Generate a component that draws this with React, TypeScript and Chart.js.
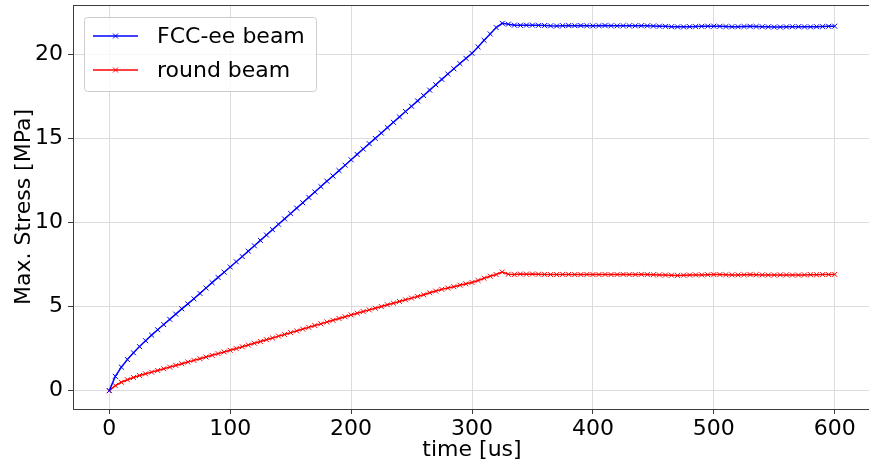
import React, { useEffect, useRef } from "react";
import { Chart, registerables } from "chart.js";

Chart.register(...registerables);

const TIME = [
  0, 5, 10, 15, 20, 25, 30, 35, 40, 45, 50, 55, 60, 65, 70, 75, 80, 85, 90, 95,
  100, 105, 110, 115, 120, 125, 130, 135, 140, 145, 150, 155, 160, 165, 170, 175, 180, 185, 190, 195,
  200, 205, 210, 215, 220, 225, 230, 235, 240, 245, 250, 255, 260, 265, 270, 275, 280, 285, 290, 295,
  300, 305, 310, 315, 320, 325, 330, 335, 340, 345, 350, 355, 360, 365, 370, 375, 380, 385, 390, 395,
  400, 405, 410, 415, 420, 425, 430, 435, 440, 445, 450, 455, 460, 465, 470, 475, 480, 485, 490, 495,
  500, 505, 510, 515, 520, 525, 530, 535, 540, 545, 550, 555, 560, 565, 570, 575, 580, 585, 590, 595,
  600,
];

const FCC_EE = [
  0, 0.85, 1.4, 1.85, 2.25, 2.62, 2.97, 3.3, 3.62, 3.93, 4.24, 4.55, 4.86, 5.16, 5.46, 5.78, 6.1, 6.42, 6.73, 7.04,
  7.35, 7.66, 7.97, 8.29, 8.61, 8.93, 9.25, 9.57, 9.89, 10.21, 10.53, 10.85, 11.17, 11.49, 11.81, 12.13, 12.45, 12.76, 13.08, 13.4,
  13.72, 14.04, 14.36, 14.68, 14.99, 15.31, 15.63, 15.95, 16.27, 16.59, 16.9, 17.22, 17.54, 17.86, 18.18, 18.5, 18.82, 19.13, 19.44, 19.75,
  20.05, 20.43, 20.82, 21.2, 21.58, 21.83, 21.78, 21.72, 21.71, 21.72, 21.72, 21.71, 21.7, 21.68, 21.67, 21.69, 21.7, 21.69, 21.7, 21.69,
  21.68, 21.69, 21.7, 21.69, 21.68, 21.69, 21.69, 21.68, 21.69, 21.68, 21.67, 21.66, 21.65, 21.63, 21.62, 21.62, 21.63, 21.64, 21.65, 21.66,
  21.66, 21.65, 21.64, 21.63, 21.63, 21.64, 21.65, 21.64, 21.63, 21.62, 21.61, 21.61, 21.62, 21.63, 21.63, 21.62, 21.62, 21.63, 21.64, 21.65,
  21.66,
];

const ROUND = [
  0, 0.3, 0.5, 0.65, 0.78, 0.9, 1.0, 1.1, 1.2, 1.3, 1.4, 1.5, 1.6, 1.7, 1.8, 1.9, 2.0, 2.1, 2.2, 2.3,
  2.4, 2.5, 2.61, 2.71, 2.82, 2.92, 3.03, 3.13, 3.24, 3.34, 3.45, 3.55, 3.66, 3.76, 3.87, 3.97, 4.08, 4.18, 4.29, 4.39,
  4.5, 4.6, 4.7, 4.8, 4.9, 5.0, 5.1, 5.2, 5.3, 5.4, 5.5, 5.6, 5.7, 5.82, 5.92, 6.02, 6.1, 6.18, 6.27, 6.35,
  6.43, 6.55, 6.68, 6.8, 6.9, 7.05, 6.92, 6.9, 6.93, 6.92, 6.93, 6.92, 6.91, 6.9, 6.9, 6.91, 6.91, 6.9, 6.9, 6.91,
  6.9, 6.9, 6.91, 6.9, 6.9, 6.91, 6.9, 6.9, 6.91, 6.9, 6.89, 6.88, 6.87, 6.86, 6.85, 6.86, 6.87, 6.88, 6.88, 6.89,
  6.9, 6.9, 6.89, 6.88, 6.88, 6.89, 6.9, 6.89, 6.88, 6.87, 6.87, 6.88, 6.88, 6.87, 6.87, 6.88, 6.89, 6.89, 6.9, 6.9,
  6.91,
];

const SERIES_LABELS = ["FCC-ee beam", "round beam"];
const SERIES_COLORS = ["#0000ff", "#ff0000"];
const X_TICKS = [0, 100, 200, 300, 400, 500, 600];
const Y_TICKS = [0, 5, 10, 15, 20];
const X_TITLE = "time [us]";
const Y_TITLE = "Max. Stress [MPa]";

const FONT = "'DejaVu Sans', sans-serif";

const framePlugin = {
  id: "frame",
  afterDraw(chart: any) {
    const { ctx, chartArea: a } = chart;
    ctx.save();
    ctx.strokeStyle = "#3c3c3c";
    ctx.lineWidth = 1;
    const l = Math.round(a.left) + 0.5;
    const t = Math.round(a.top) + 0.5;
    const r = Math.round(a.right) + 0.5;
    const b = Math.round(a.bottom) + 0.5;
    ctx.strokeRect(l, t, r - l, b - t);
    ctx.restore();
  },
};

const legendPlugin = {
  id: "mplLegend",
  afterDraw(chart: any) {
    const { ctx } = chart;
    ctx.save();
    const x = 84.5, y = 17.5, w = 232, h = 74, rad = 3;
    ctx.beginPath();
    ctx.moveTo(x + rad, y);
    ctx.lineTo(x + w - rad, y);
    ctx.arcTo(x + w, y, x + w, y + rad, rad);
    ctx.lineTo(x + w, y + h - rad);
    ctx.arcTo(x + w, y + h, x + w - rad, y + h, rad);
    ctx.lineTo(x + rad, y + h);
    ctx.arcTo(x, y + h, x, y + h - rad, rad);
    ctx.lineTo(x, y + rad);
    ctx.arcTo(x, y, x + rad, y, rad);
    ctx.closePath();
    ctx.fillStyle = "rgba(255,255,255,0.8)";
    ctx.fill();
    ctx.strokeStyle = "#cccccc";
    ctx.lineWidth = 1;
    ctx.stroke();

    chart.data.datasets.forEach((ds: any, i: number) => {
      const cy = 36 + i * 34;
      ctx.strokeStyle = ds.borderColor;
      ctx.lineWidth = 1.5;
      ctx.beginPath();
      ctx.moveTo(93, cy);
      ctx.lineTo(138, cy);
      ctx.stroke();
      const mx = 115.5, s = 2.5;
      ctx.lineWidth = 1;
      ctx.beginPath();
      ctx.moveTo(mx - s, cy - s);
      ctx.lineTo(mx + s, cy + s);
      ctx.moveTo(mx - s, cy + s);
      ctx.lineTo(mx + s, cy - s);
      ctx.stroke();
      ctx.fillStyle = "#000";
      ctx.font = `22px ${FONT}`;
      ctx.textBaseline = "middle";
      ctx.textAlign = "left";
      ctx.fillText(ds.label, 157, cy + 1);
    });
    ctx.restore();
  },
};

export default function App() {
  const ref = useRef<HTMLCanvasElement | null>(null);

  useEffect(() => {
    if (!ref.current) return;
    const makeData = (vals: number[]) => TIME.map((t, i) => ({ x: t, y: vals[i] }));
    const series = [FCC_EE, ROUND];
    const chart = new Chart(ref.current, {
      type: "line",
      data: {
        datasets: series.map((vals, i) => ({
          label: SERIES_LABELS[i],
          data: makeData(vals),
          borderColor: SERIES_COLORS[i],
          backgroundColor: SERIES_COLORS[i],
          borderWidth: 1.5,
          pointStyle: "crossRot",
          pointRadius: 3.5,
          pointBorderWidth: 1,
          pointBorderColor: SERIES_COLORS[i],
          pointBackgroundColor: SERIES_COLORS[i],
          fill: false,
          tension: 0,
        })),
      },
      options: {
        animation: false,
        responsive: false,
        maintainAspectRatio: false,
        layout: { padding: { top: 5, right: 9, left: 0, bottom: 0 } },
        plugins: {
          legend: { display: false },
          tooltip: { enabled: false },
        },
        scales: {
          x: {
            type: "linear",
            min: -30,
            max: 630,
            afterBuildTicks: (s: any) => {
              s.ticks = X_TICKS.map((v) => ({ value: v }));
            },
            afterFit: (s: any) => {
              s.height = 55;
              s.paddingLeft = 0;
              s.paddingRight = 0;
            },
            border: { display: false },
            grid: {
              color: "#dcdcdc",
              lineWidth: 1,
              drawTicks: true,
              tickLength: 5,
              tickColor: "#3c3c3c",
            },
            ticks: {
              font: { family: FONT, size: 22 },
              color: "#000",
              padding: 2,
              maxRotation: 0,
              autoSkip: false,
            },
            title: {
              display: true,
              text: X_TITLE,
              font: { family: FONT, size: 22, lineHeight: 1.2 },
              color: "#000",
              padding: { top: 0, bottom: 1 },
            },
          },
          y: {
            type: "linear",
            min: -1.09,
            max: 22.92,
            afterBuildTicks: (s: any) => {
              s.ticks = Y_TICKS.map((v) => ({ value: v }));
            },
            afterFit: (s: any) => {
              s.width = 73;
              s.paddingTop = 0;
              s.paddingBottom = 0;
            },
            border: { display: false },
            grid: {
              color: "#dcdcdc",
              lineWidth: 1,
              drawTicks: true,
              tickLength: 5,
              tickColor: "#3c3c3c",
            },
            ticks: {
              font: { family: FONT, size: 22 },
              color: "#000",
              padding: 5,
              autoSkip: false,
            },
            title: {
              display: true,
              text: Y_TITLE,
              font: { family: FONT, size: 22, lineHeight: 1.2 },
              color: "#000",
              padding: { top: 11, bottom: 0 },
            },
          },
        },
      },
      plugins: [framePlugin, legendPlugin],
    });
    return () => chart.destroy();
  }, []);

  return (
    <div
      style={{
        position: "fixed",
        left: 0,
        top: 0,
        width: 869,
        height: 464,
        overflow: "hidden",
        background: "#fff",
      }}
    >
      <canvas ref={ref} width={880} height={464} style={{ display: "block" }} />
    </div>
  );
}
